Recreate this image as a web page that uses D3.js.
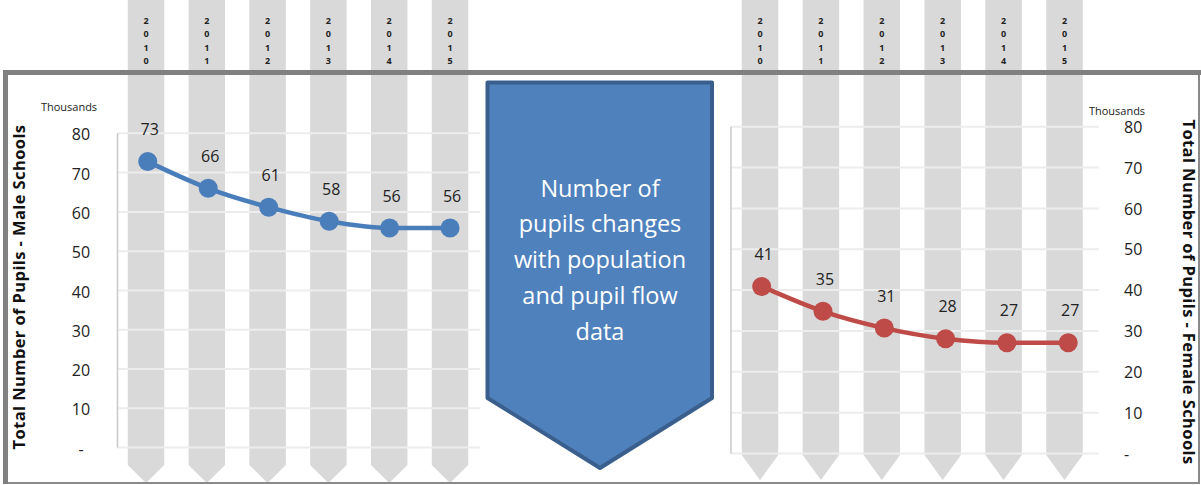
<!DOCTYPE html>
<html>
<head>
<meta charset="utf-8">
<script src="https://cdn.jsdelivr.net/npm/d3@7"></script>
<style>
  body { margin: 0; background: #fff; }
  svg { display: block; font-family: "Open Sans", sans-serif; }
</style>
</head>
<body>
<div id="chart"></div>
<script>
const years = ["2010", "2011", "2012", "2013", "2014", "2015"];
const maleValues = [72.8, 66.0, 61.2, 57.6, 55.9, 55.9];
const femaleValues = [40.9, 34.8, 30.7, 28.1, 27.1, 27.1];
const yTicks = [0, 10, 20, 30, 40, 50, 60, 70, 80];
const calloutLines = ["Number of", "pupils changes", "with population", "and pupil flow", "data"];

const width = 1201;
const height = 485;

const svg = d3.select("#chart")
  .append("svg")
  .attr("width", width)
  .attr("height", height)
  .attr("viewBox", `0 0 ${width} ${height}`);

const tickFormat = (d) => (d === 0 ? "-" : d3.format(".0f")(d));

// two panels share everything except placement and colour
const panels = [
  {
    values: maleValues,
    color: "#4a7ebb",
    title: "Total Number of Pupils - Male Schools",
    x: [117.5, 480.3],
    y: [447.6, 133.3],
    cols: [146, 450],
    colStraightEnd: 465,
    colTip: 483,
    side: "left"
  },
  {
    values: femaleValues,
    color: "#be4b48",
    title: "Total Number of Pupils - Female Schools",
    x: [731, 1098.9],
    y: [453.5, 126.7],
    cols: [760, 1064.5],
    colStraightEnd: 455,
    colTip: 480,
    side: "right"
  }
];

const colWidth = 36.5;
const bgLayer = svg.append("g").attr("class", "columns");
const frameLayer = svg.append("g").attr("class", "frame");
const plotLayer = svg.append("g").attr("class", "plots");

panels.forEach((p) => {
  const colX = d3.scalePoint().domain(years).range(p.cols);
  const half = colWidth / 2;

  // gray pentagon columns behind the chart
  bgLayer.selectAll(null)
    .data(years)
    .join("path")
    .attr("fill", "#d9d9d9")
    .attr("d", (d) => {
      const cx = colX(d);
      return `M${cx - half},0 L${cx + half},0 L${cx + half},${p.colStraightEnd} L${cx},${p.colTip} L${cx - half},${p.colStraightEnd} Z`;
    });

  // year labels written as stacked digits
  const yearLabels = bgLayer.selectAll(null)
    .data(years)
    .join("text")
    .attr("text-anchor", "middle")
    .attr("font-size", 9)
    .attr("font-weight", "bold")
    .attr("fill", "#222");
  yearLabels.each(function (d) {
    const t = d3.select(this);
    d.split("").forEach((ch, i) => {
      t.append("tspan")
        .attr("x", colX(d))
        .attr("y", 24 + i * 13.3)
        .text(ch);
    });
  });

  const x = d3.scaleBand().domain(years).range(p.x);
  const y = d3.scaleLinear().domain([0, 80]).range(p.y);
  const g = plotLayer.append("g");

  // gridlines
  g.append("g")
    .selectAll("line")
    .data(yTicks)
    .join("line")
    .attr("x1", p.x[0])
    .attr("x2", p.x[1])
    .attr("y1", (d) => y(d))
    .attr("y2", (d) => y(d))
    .attr("stroke", "#ededed")
    .attr("stroke-width", 2);

  // axis line on the left of the plot area
  g.append("line")
    .attr("x1", p.x[0])
    .attr("x2", p.x[0])
    .attr("y1", y(80))
    .attr("y2", y(0))
    .attr("stroke", "#c8c8c8")
    .attr("stroke-width", 1.5);

  // tick labels
  const tickX = p.side === "left" ? 81 : 1124;
  g.append("g")
    .selectAll("text")
    .data(yTicks)
    .join("text")
    .attr("x", tickX)
    .attr("y", (d) => y(d) + (p.side === "left" ? 1.5 : 0.5))
    .attr("dy", "0.35em")
    .attr("text-anchor", p.side === "left" ? "middle" : "start")
    .attr("font-size", 16)
    .attr("fill", "#222")
    .text(tickFormat);

  g.append("text")
    .attr("x", p.side === "left" ? 69 : 1117)
    .attr("y", p.side === "left" ? 107 : 111)
    .attr("dy", "0.35em")
    .attr("text-anchor", "middle")
    .attr("font-size", 11)
    .attr("fill", "#222")
    .text("Thousands");

  // axis title
  const tx = p.side === "left" ? 19 : 1189;
  const ty = p.side === "left" ? 287 : 292;
  g.append("text")
    .attr("transform", `translate(${tx},${ty}) rotate(${p.side === "left" ? -90 : 90})`)
    .attr("text-anchor", "middle")
    .attr("dy", "0.35em")
    .attr("font-size", 16.5)
    .attr("letter-spacing", 0.4)
    .attr("font-weight", "bold")
    .attr("fill", "#111")
    .text(p.title);

  const cx = (i) => x(years[i]) + x.bandwidth() / 2;

  const line = d3.line()
    .x((d, i) => cx(i))
    .y((d) => y(d))
    .curve(d3.curveMonotoneX);

  g.append("path")
    .datum(p.values)
    .attr("fill", "none")
    .attr("stroke", p.color)
    .attr("stroke-width", 4.5)
    .attr("d", line);

  g.append("g")
    .selectAll("circle")
    .data(p.values)
    .join("circle")
    .attr("cx", (d, i) => cx(i))
    .attr("cy", (d) => y(d))
    .attr("r", 9.5)
    .attr("fill", p.color);

  g.append("g")
    .selectAll("text")
    .data(p.values)
    .join("text")
    .attr("x", (d, i) => cx(i) + 2)
    .attr("y", (d) => y(d) - 32)
    .attr("dy", "0.35em")
    .attr("text-anchor", "middle")
    .attr("font-size", 16)
    .attr("fill", "#222")
    .text((d) => d3.format(".0f")(d));
});

// frame: thick top/left, thin bottom/right
frameLayer.append("rect")
  .attr("x", 5.5)
  .attr("y", 72.5)
  .attr("width", 1193.5)
  .attr("height", 410.5)
  .attr("fill", "none")
  .attr("stroke", "#8a8a8a")
  .attr("stroke-width", 2);
frameLayer.append("rect")
  .attr("x", 3)
  .attr("y", 70)
  .attr("width", 1198)
  .attr("height", 5)
  .attr("fill", "#808080");
frameLayer.append("rect")
  .attr("x", 3)
  .attr("y", 70)
  .attr("width", 5)
  .attr("height", 414)
  .attr("fill", "#808080");

// centre callout arrow
const callout = svg.append("g");
callout.append("path")
  .attr("d", "M487.5,82.5 L712,82.5 L712,398 L600,468 L487.5,398 Z")
  .attr("fill", "#4f81bd")
  .attr("stroke", "#3a5f8c")
  .attr("stroke-width", 4)
  .attr("stroke-linejoin", "round");

callout.append("g")
  .selectAll("text")
  .data(calloutLines)
  .join("text")
  .attr("x", 600)
  .attr("y", (d, i) => 196.5 + i * 35.8)
  .attr("text-anchor", "middle")
  .attr("font-size", 23.5)
  .attr("fill", "#fff")
  .text((d) => d);
</script>
</body>
</html>
